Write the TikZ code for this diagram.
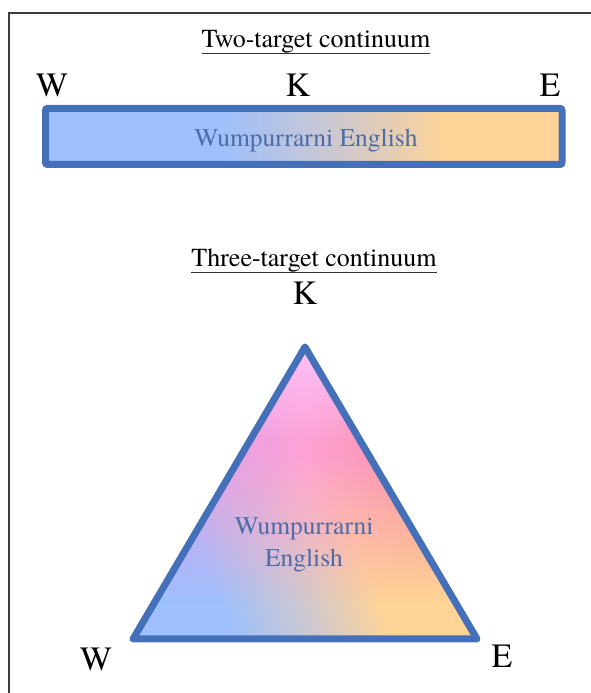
\documentclass[tikz,border=0pt]{standalone}
\usepackage{fontspec}
\setmainfont{TeX Gyre Termes}
\usetikzlibrary{fadings}
\definecolor{framegray}{RGB}{60,60,60}
\definecolor{edgeblue}{RGB}{68,112,185}
\definecolor{labelblue}{RGB}{78,108,168}
\definecolor{wblue}{RGB}{158,192,252}
\definecolor{kgray}{RGB}{205,200,208}
\definecolor{eorange}{RGB}{255,212,150}
\definecolor{pinklight}{RGB}{252,188,242}
\definecolor{pinkmid}{RGB}{255,162,214}
\definecolor{violetpink}{RGB}{192,158,248}
\definecolor{salmonred}{RGB}{242,128,128}
\pgfdeclarehorizontalshading{bandshade}{100bp}{color(0bp)=(wblue); color(42.5bp)=(wblue); color(50bp)=(kgray); color(57.5bp)=(eorange); color(100bp)=(eorange)}
\pgfdeclarehorizontalshading{rectshade}{100bp}{color(0bp)=(wblue); color(42bp)=(wblue); color(53bp)=(kgray); color(64bp)=(eorange); color(100bp)=(eorange)}
\begin{tikzfadingfrompicture}[name=pinkmaskA, x=1pt, y=1pt]
  \fill[transparent!0] (0,149.5) rectangle (400,260);
  \shade[top color=transparent!0, bottom color=transparent!100] (0,0) rectangle (400,150);
\end{tikzfadingfrompicture}
\begin{tikzfadingfrompicture}[name=pinkmaskB, x=1pt, y=1pt]
  \fill[transparent!0] (0,79.5) rectangle (400,100);
  \shade[top color=transparent!0, bottom color=transparent!100] (0,0) rectangle (400,80);
\end{tikzfadingfrompicture}
\tikzset{
  titletext/.style={font=\fontsize{26}{30}\selectfont, inner sep=0pt, anchor=base},
  cornertext/.style={font=\fontsize{34}{40}\selectfont, inner sep=0pt, anchor=base},
  innertext/.style={font=\fontsize{25.5}{30}\selectfont, text=labelblue, inner sep=0pt, anchor=base},
  underrule/.style={line width=1.3pt, draw=black!80},
  edgeline/.style={draw=edgeblue, line width=7pt, line join=round},
}
\begin{document}
\begin{tikzpicture}[x=1pt,y=1pt]
\useasboundingbox (0,0) rectangle (591,693);
% frame
\draw[framegray, line width=1.2pt] (9,-10) -- (9,680) -- (610,680);

% two-target continuum
\node[titletext] (t1) at (316,645) {Two-target continuum};
\draw[underrule] ([yshift=-5.5pt]t1.base west) -- ([yshift=-5.5pt]t1.base east);
\node[cornertext] (w1) at (52,596) {W};
\node[cornertext] (k1) at (298,596) {K};
\node[cornertext] (e1) at (550,596) {E};
\shadedraw[shading=rectshade, draw=edgeblue, line width=7pt, rounded corners=2pt]
  (45.5,528.5) rectangle (562,584.5);
\node[innertext] (band) at (306,546) {Wumpurrarni English};

% three-target continuum
\node[titletext] (t2) at (314,426) {Three-target continuum};
\draw[underrule] ([yshift=-5.5pt]t2.base west) -- ([yshift=-5.5pt]t2.base east);
\coordinate (tK) at (305,346);
\coordinate (tW) at (133,54);
\coordinate (tE) at (477,54);
\begin{scope}
  \clip (tK) -- (tW) -- (tE) -- cycle;
  \begin{scope}[transform canvas={rotate around={21:(315,53)}}]
    \shade[shading=bandshade] (65,-447) rectangle (565,553);
  \end{scope}
  \shade[left color=violetpink, right color=salmonred, middle color=pinkmid,
         path fading=pinkmaskA, fit fading=false, fading transform={shift={(305,220)}}]
    (105,90) rectangle (505,350);
  \fill[pinklight, path fading=pinkmaskB, fit fading=false, fading transform={shift={(305,300)}}]
    (105,250) rectangle (505,350);
\end{scope}
\draw[edgeline] (tK) -- (tW) -- (tE) -- cycle;
\node[cornertext] (k2) at (305,388) {K};
\node[cornertext] (w2) at (96,23) {W};
\node[cornertext] (e2) at (502,25) {E};
\node[innertext] (tri1) at (304,158) {Wumpurrarni};
\node[innertext] (tri2) at (304,126) {English};
\end{tikzpicture}
\end{document}
